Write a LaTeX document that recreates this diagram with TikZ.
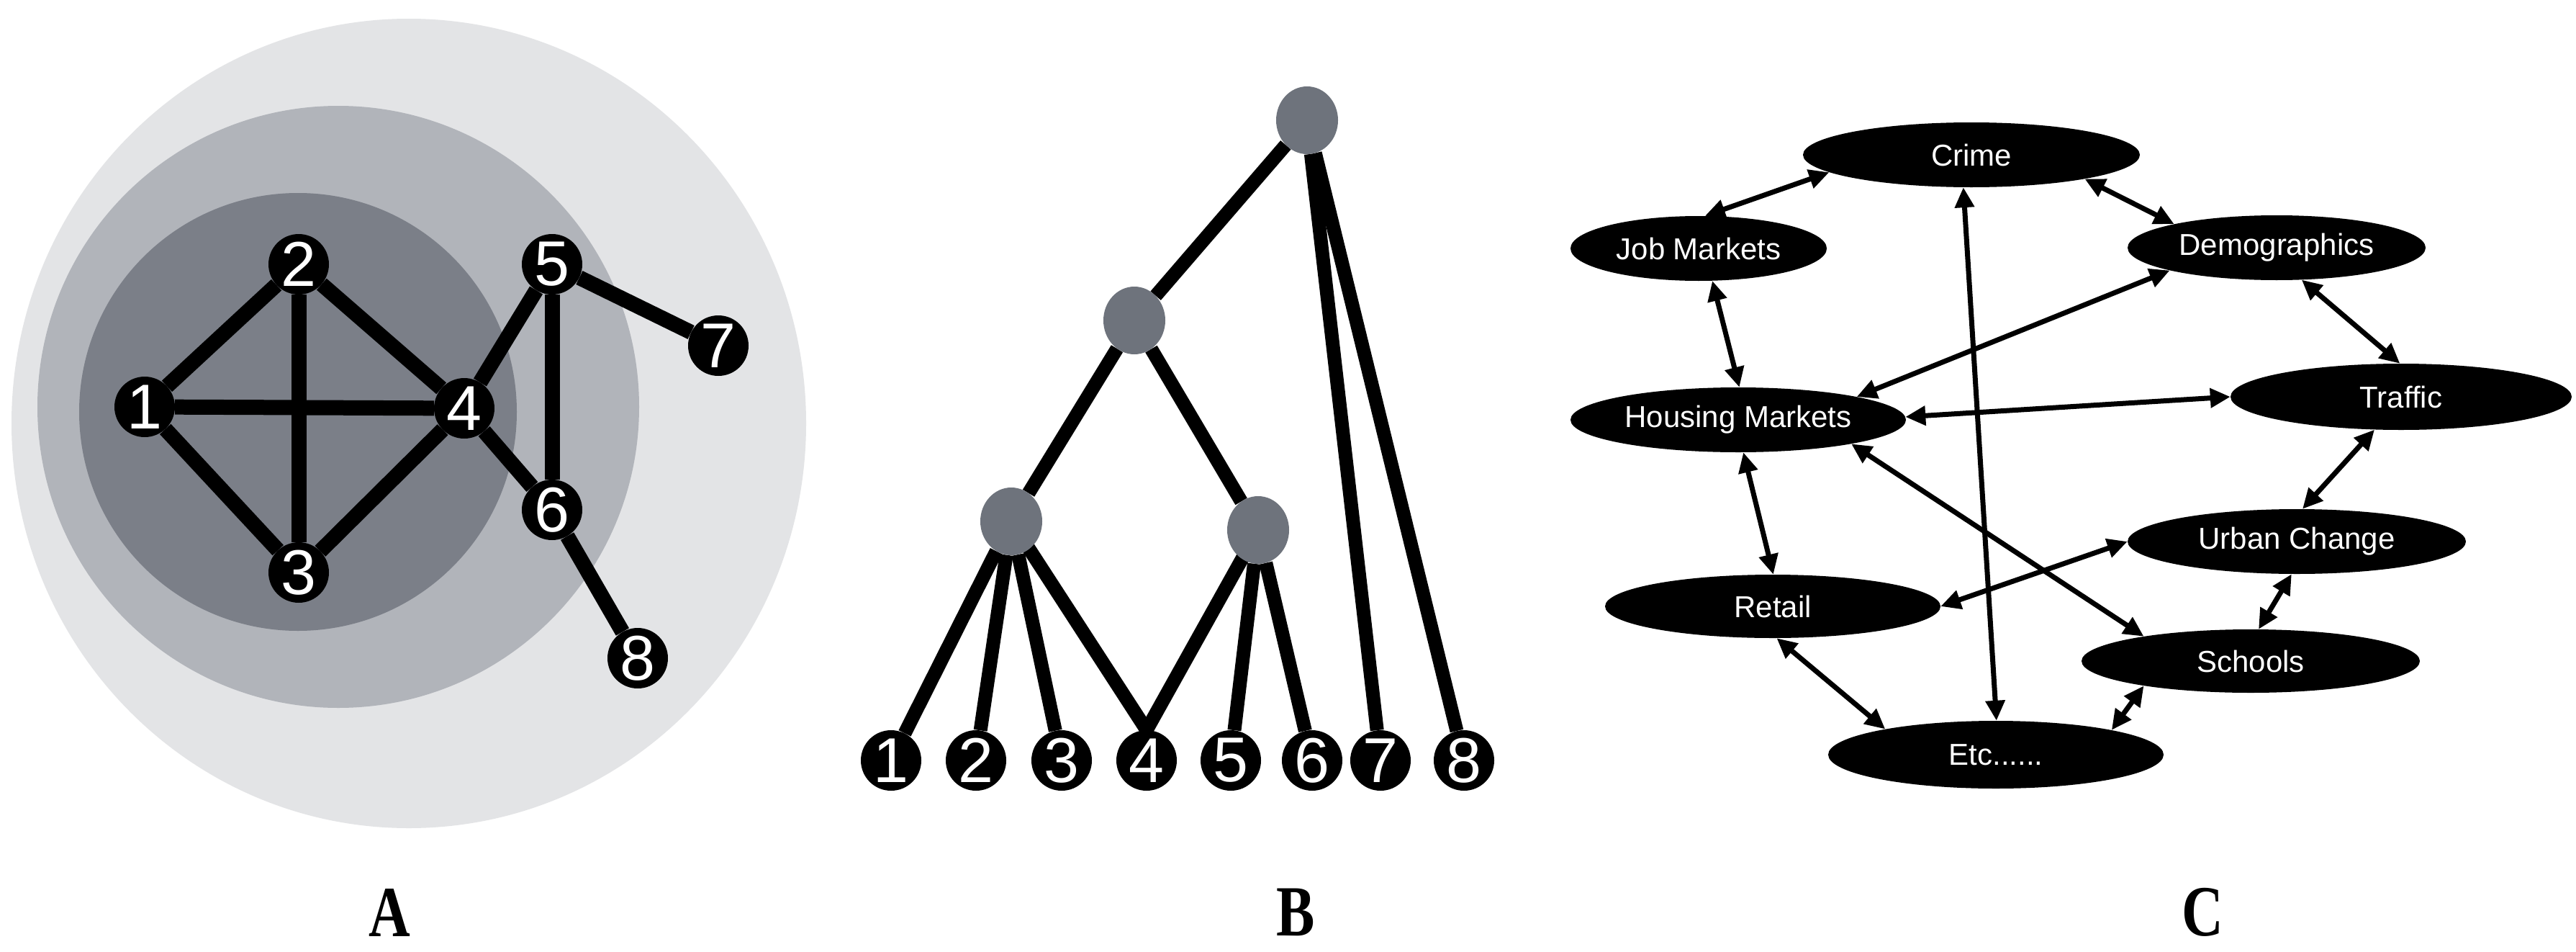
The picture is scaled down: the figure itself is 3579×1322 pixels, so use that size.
\documentclass[tikz,border=0pt]{standalone}
\usepackage{fontspec}
\setmainfont{Liberation Serif}
\newfontfamily\sansf{Liberation Sans}
\usetikzlibrary{arrows.meta,shapes.geometric}
\pgfdeclarelayer{circ}
\pgfdeclarelayer{links}
\pgfsetlayers{circ,links,main}
\definecolor{ringout}{HTML}{E3E4E6}
\definecolor{ringmid}{HTML}{B1B4BA}
\definecolor{ringin}{HTML}{7B7F88}
\definecolor{innernode}{HTML}{6E737C}
\begin{document}
\begin{tikzpicture}[x=1pt,y=-1pt,
 numnode/.style={circle,fill=black,minimum size=84pt,inner sep=0pt,text=white,font=\sansf\fontsize{88}{88}\selectfont},
 graynode/.style={ellipse,fill=innernode,minimum width=86pt,minimum height=94pt,inner sep=0pt},
 graphedge/.style={line width=21pt},
 treeedge/.style={line width=19pt},
 topic/.style={ellipse,fill=black,text=white,inner sep=0pt,font=\sansf\fontsize{42}{42}\selectfont},
 link/.style={line width=7pt,{Triangle[length=28pt,width=26pt]}-{Triangle[length=28pt,width=26pt]}},
 panel/.style={font=\bfseries\fontsize{100}{100}\selectfont,xscale=0.8,inner sep=0pt}]
\begin{pgfonlayer}{circ}
\fill[white] (0,0) rectangle (3579,1322);
\end{pgfonlayer}
\useasboundingbox (0,0) rectangle (3579,1322);

% ---------------- Panel A ----------------
\begin{pgfonlayer}{circ}
\fill[ringout] (568,588) ellipse [x radius=552, y radius=562];
\fill[ringmid] (470,565) circle [radius=418];
\fill[ringin] (414,572) circle [radius=304];
\end{pgfonlayer}
\node[numnode] (a1) at (201,565) {1};
\node[numnode] (a2) at (415,367) {2};
\node[numnode] (a3) at (415,795) {3};
\node[numnode] (a4) at (645,567) {4};
\node[numnode] (a5) at (767,367) {5};
\node[numnode] (a6) at (767,708) {6};
\node[numnode] (a7) at (998,480) {7};
\node[numnode] (a8) at (886,914) {8};
\begin{pgfonlayer}{links}
\draw[graphedge] (a1) -- (a2);
\draw[graphedge] (a1) -- (a3);
\draw[graphedge] (a1) -- (a4);
\draw[graphedge] (a2) -- (a3);
\draw[graphedge] (a2) -- (a4);
\draw[graphedge] (a3) -- (a4);
\draw[graphedge] (a4) -- (a5);
\draw[graphedge] (a4) -- (a6);
\draw[graphedge] (a5) -- (a6);
\draw[graphedge] (a5) -- (a7);
\draw[graphedge] (a6) -- (a8);
\end{pgfonlayer}

% ---------------- Panel B ----------------
\node[graynode] (top) at (1816,167) {};
\node[graynode] (mid) at (1576,445) {};
\node[graynode] (gl) at (1405,724) {};
\node[graynode] (gr) at (1748,736) {};
\node[numnode] (b1) at (1238,1056) {1};
\node[numnode] (b2) at (1356,1056) {2};
\node[numnode] (b3) at (1475,1056) {3};
\node[numnode] (b4) at (1593,1056) {4};
\node[numnode] (b5) at (1710,1056) {5};
\node[numnode] (b6) at (1823,1056) {6};
\node[numnode] (b7) at (1918,1056) {7};
\node[numnode] (b8) at (2034,1056) {8};
\begin{pgfonlayer}{links}
\draw[treeedge] (top) -- (mid);
\draw[treeedge] (top) -- (b7);
\draw[treeedge] (top) -- (b8);
\draw[treeedge] (mid) -- (gl);
\draw[treeedge] (mid) -- (gr);
\draw[treeedge] (gl) -- (b1);
\draw[treeedge] (gl) -- (b2);
\draw[treeedge] (gl) -- (b3);
\draw[treeedge] (gl.center) -- (b4.north);
\draw[treeedge] (gr.center) -- (b4.north);
\draw[treeedge] (gr) -- (b5);
\draw[treeedge] (gr) -- (b6);
\end{pgfonlayer}

% ---------------- Panel C ----------------
\node[topic,minimum width=468pt,minimum height=90pt] (crime) at (2739,215) {Crime};
\node[topic,minimum width=356pt,minimum height=90pt] (job) at (2360,345) {Job Markets};
\node[topic,minimum width=414pt,minimum height=90pt] (demo) at (3163,344) {Demographics};
\node[topic,minimum width=466pt,minimum height=90pt] (housing) at (2415,583) {Housing Markets};
\node[topic,minimum width=474pt,minimum height=92pt] (traffic) at (3336,551) {Traffic};
\node[topic,minimum width=470pt,minimum height=90pt] (urban) at (3191,752) {Urban Change};
\node[topic,minimum width=466pt,minimum height=88pt] (retail) at (2463,842) {Retail};
\node[topic,minimum width=470pt,minimum height=88pt] (schools) at (3127,918) {Schools};
\node[topic,minimum width=466pt,minimum height=94pt] (etc) at (2773,1048) {Etc......};

\draw[link] (crime.187) -- (job.79);
\draw[link] (crime.348) -- (demo.167);
\draw[link] (crime.256) -- (etc.89);
\draw[link] (job.293) -- (housing.88);
\draw[link] (demo.192) -- (housing.11);
\draw[link] (demo.308) -- (traffic.92);
\draw[link] (housing.1) -- (traffic.180);
\draw[link] (housing.279) -- (retail.89);
\draw[link] (housing.348) -- (schools.167);
\draw[link] (traffic.231) -- (urban.80);
\draw[link] (urban.180) -- (retail.0);
\draw[link] (urban.261) -- (schools.76);
\draw[link] (retail.277) -- (etc.167);
\draw[link] (schools.193) -- (etc.12);

% ---------------- Labels ----------------
\node[panel] (labA) at (541,1267) {A};
\node[panel] (labB) at (1800,1267) {B};
\node[panel] (labC) at (3060,1267) {C};
\end{tikzpicture}
\end{document}
